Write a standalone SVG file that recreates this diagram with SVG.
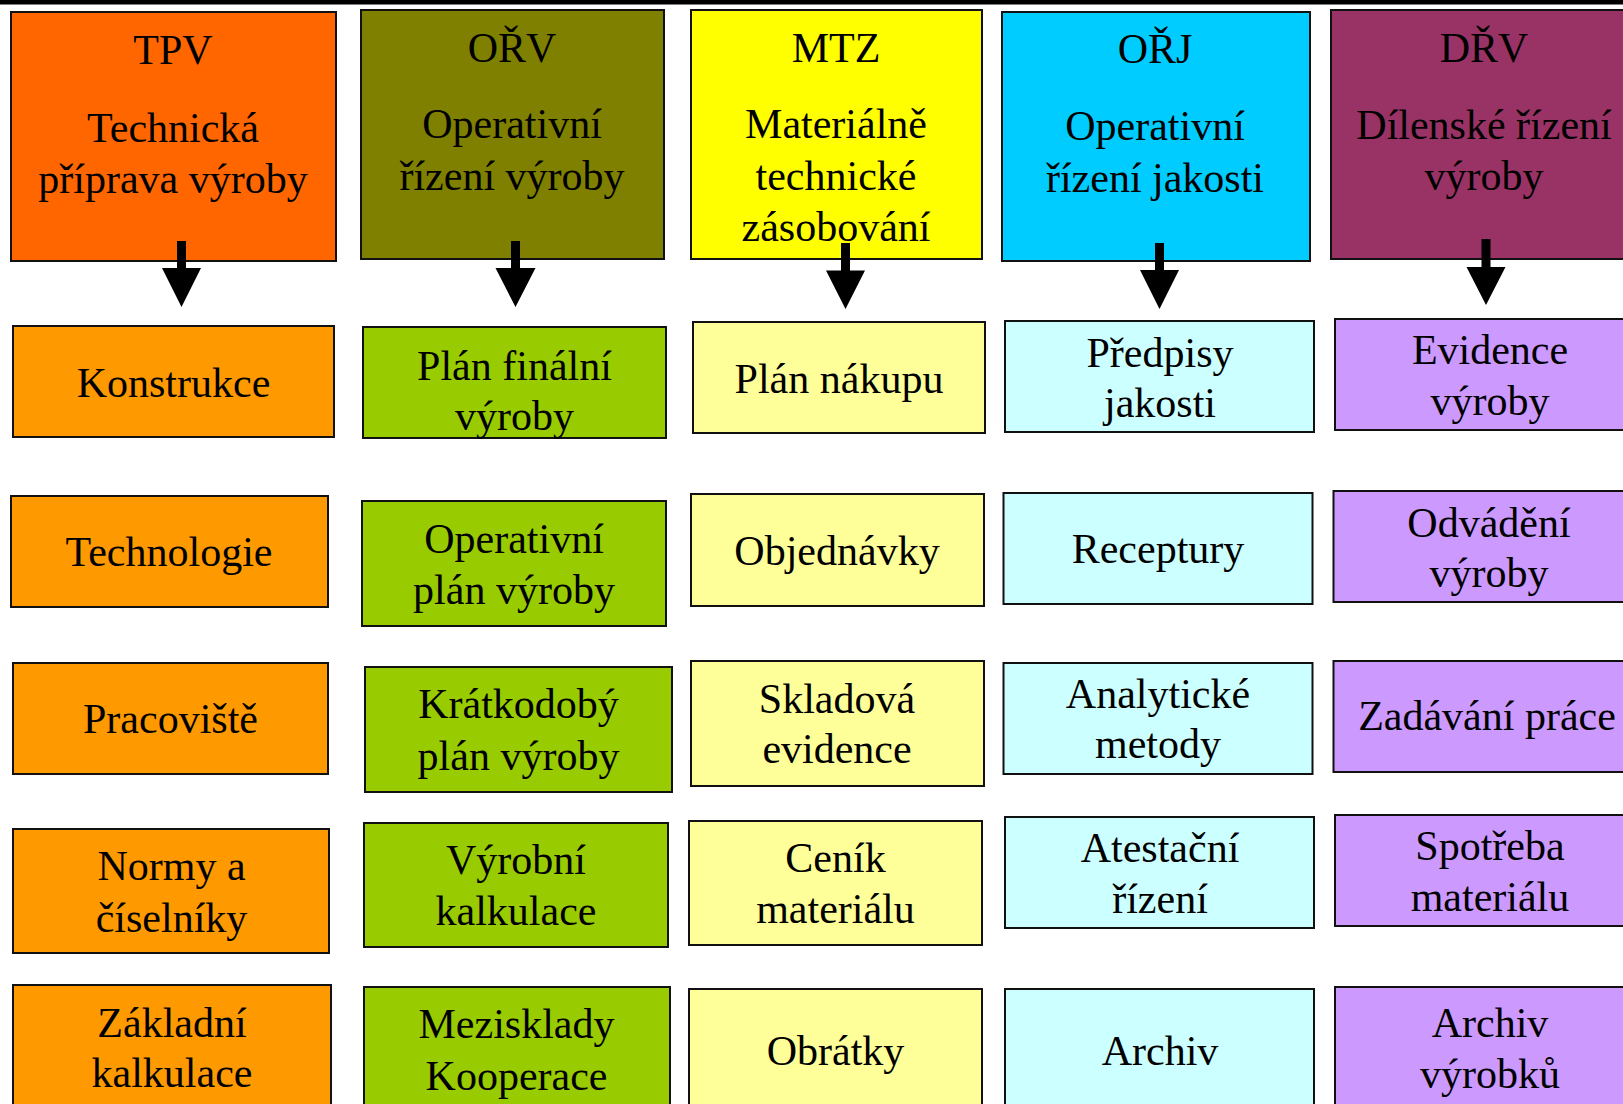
<svg xmlns="http://www.w3.org/2000/svg" width="1623" height="1104" viewBox="0 0 1623 1104">
<style>
rect.b{stroke:#111;stroke-width:2}
text{font-family:"Liberation Serif","Times New Roman",serif;font-size:42px;fill:#000;text-anchor:middle}
.h1{fill:#FF6600}.h2{fill:#808000}.h3{fill:#FFFF00}.h4{fill:#00CCFF}.h5{fill:#993366}
.s1{fill:#FF9900}.s2{fill:#99CC00}.s3{fill:#FFFF99}.s4{fill:#CCFFFF}.s5{fill:#CC99FF}
.arr{fill:#000}
</style>
<rect x="0" y="0" width="1623" height="1104" fill="#fff"/>
<rect x="0" y="0" width="1623" height="4.5" fill="#000"/>

<g id="tpv"><rect class="b h1" x="11" y="12" width="325" height="249"/><text x="173" y="64">TPV</text><text x="173" y="142">Technická</text><text x="173" y="193">příprava výroby</text></g>
<g id="orv"><rect class="b h2" x="361" y="10" width="303" height="249"/><text x="512" y="62">OŘV</text><text x="512" y="138">Operativní</text><text x="512" y="190">řízení výroby</text></g>
<g id="mtz"><rect class="b h3" x="691" y="10" width="291" height="249"/><text x="836" y="62">MTZ</text><text x="836" y="138">Materiálně</text><text x="836" y="190">technické</text><text x="836" y="241">zásobování</text></g>
<g id="orj"><rect class="b h4" x="1002" y="12" width="308" height="249"/><text x="1155" y="63">OŘJ</text><text x="1155" y="140">Operativní</text><text x="1155" y="192">řízení jakosti</text></g>
<g id="drv"><rect class="b h5" x="1331" y="10" width="308" height="249"/><text x="1484" y="62">DŘV</text><text x="1484" y="139">Dílenské řízení</text><text x="1484" y="190">výroby</text></g>

<g id="konstrukce"><rect class="b s1" x="13" y="326" width="321" height="111"/><text x="173.5" y="397">Konstrukce</text></g>
<g id="technologie"><rect class="b s1" x="11" y="496" width="317" height="111"/><text x="169" y="566">Technologie</text></g>
<g id="pracoviste"><rect class="b s1" x="13" y="663" width="315" height="111"/><text x="170.5" y="733">Pracoviště</text></g>
<g id="normy"><rect class="b s1" x="13" y="829" width="316" height="124"/><text x="171.5" y="880">Normy a</text><text x="171.5" y="932">číselníky</text></g>
<g id="zakladni"><rect class="b s1" x="13" y="985" width="318" height="140"/><text x="172" y="1037">Základní</text><text x="172" y="1087">kalkulace</text></g>

<g id="planfinalni"><rect class="b s2" x="363" y="327" width="303" height="111"/><text x="514.5" y="380">Plán finální</text><text x="514.5" y="430">výroby</text></g>
<g id="operativniplan"><rect class="b s2" x="362" y="501" width="304" height="125"/><text x="514" y="553">Operativní</text><text x="514" y="604">plán výroby</text></g>
<g id="kratkodoby"><rect class="b s2" x="365" y="667" width="307" height="125"/><text x="518.5" y="718">Krátkodobý</text><text x="518.5" y="770">plán výroby</text></g>
<g id="vyrobnikalk"><rect class="b s2" x="364" y="823" width="304" height="124"/><text x="516" y="874">Výrobní</text><text x="516" y="925">kalkulace</text></g>
<g id="mezisklady"><rect class="b s2" x="364" y="987" width="306" height="140"/><text x="516.5" y="1038">Mezisklady</text><text x="516.5" y="1090">Kooperace</text></g>

<g id="plannakupu"><rect class="b s3" x="693" y="322" width="292" height="111"/><text x="839" y="393">Plán nákupu</text></g>
<g id="objednavky"><rect class="b s3" x="691" y="494" width="293" height="112"/><text x="837" y="565">Objednávky</text></g>
<g id="skladova"><rect class="b s3" x="691" y="661" width="293" height="125"/><text x="837" y="713">Skladová</text><text x="837" y="763">evidence</text></g>
<g id="cenik"><rect class="b s3" x="689" y="821" width="293" height="124"/><text x="835.5" y="872">Ceník</text><text x="835.5" y="923">materiálu</text></g>
<g id="obratky"><rect class="b s3" x="689" y="989" width="293" height="140"/><text x="835.5" y="1065">Obrátky</text></g>

<g id="predpisy"><rect class="b s4" x="1005" y="321" width="309" height="111"/><text x="1160" y="367">Předpisy</text><text x="1160" y="417">jakosti</text></g>
<g id="receptury"><rect class="b s4" x="1003.5" y="493" width="309" height="111"/><text x="1158" y="563">Receptury</text></g>
<g id="analyticke"><rect class="b s4" x="1003.5" y="663" width="309" height="111"/><text x="1158" y="708">Analytické</text><text x="1158" y="758">metody</text></g>
<g id="atestacni"><rect class="b s4" x="1005" y="817" width="309" height="111"/><text x="1160" y="862">Atestační</text><text x="1160" y="913">řízení</text></g>
<g id="archiv"><rect class="b s4" x="1005" y="989" width="309" height="140"/><text x="1160" y="1065">Archiv</text></g>

<g id="evidence"><rect class="b s5" x="1335" y="319" width="310" height="111"/><text x="1490" y="364">Evidence</text><text x="1490" y="415">výroby</text></g>
<g id="odvadeni"><rect class="b s5" x="1333.5" y="491" width="310" height="111"/><text x="1489" y="537">Odvádění</text><text x="1489" y="587">výroby</text></g>
<g id="zadavani"><rect class="b s5" x="1333.5" y="661" width="310" height="111"/><text x="1487" y="730">Zadávání práce</text></g>
<g id="spotreba"><rect class="b s5" x="1335" y="815" width="310" height="111"/><text x="1490" y="860">Spotřeba</text><text x="1490" y="911">materiálu</text></g>
<g id="archivvyrobku"><rect class="b s5" x="1335" y="987" width="310" height="140"/><text x="1490" y="1037">Archiv</text><text x="1490" y="1088">výrobků</text></g>

<g id="connectors" class="arr">
<polygon points="177,241 186,241 186,268 201,268 181.5,307 162,268 177,268"/>
<polygon points="511,241 520,241 520,268 535.5,268 515.5,307 495.5,268 511,268"/>
<polygon points="841,243 850,243 850,270.5 865,270.5 845.5,309 826,270.5 841,270.5"/>
<polygon points="1155,243 1164,243 1164,270 1179,270 1159.5,309 1140,270 1155,270"/>
<polygon points="1481.5,239 1490.5,239 1490.5,267 1505.5,267 1486,305 1466.5,267 1481.5,267"/>
</g>
</svg>
